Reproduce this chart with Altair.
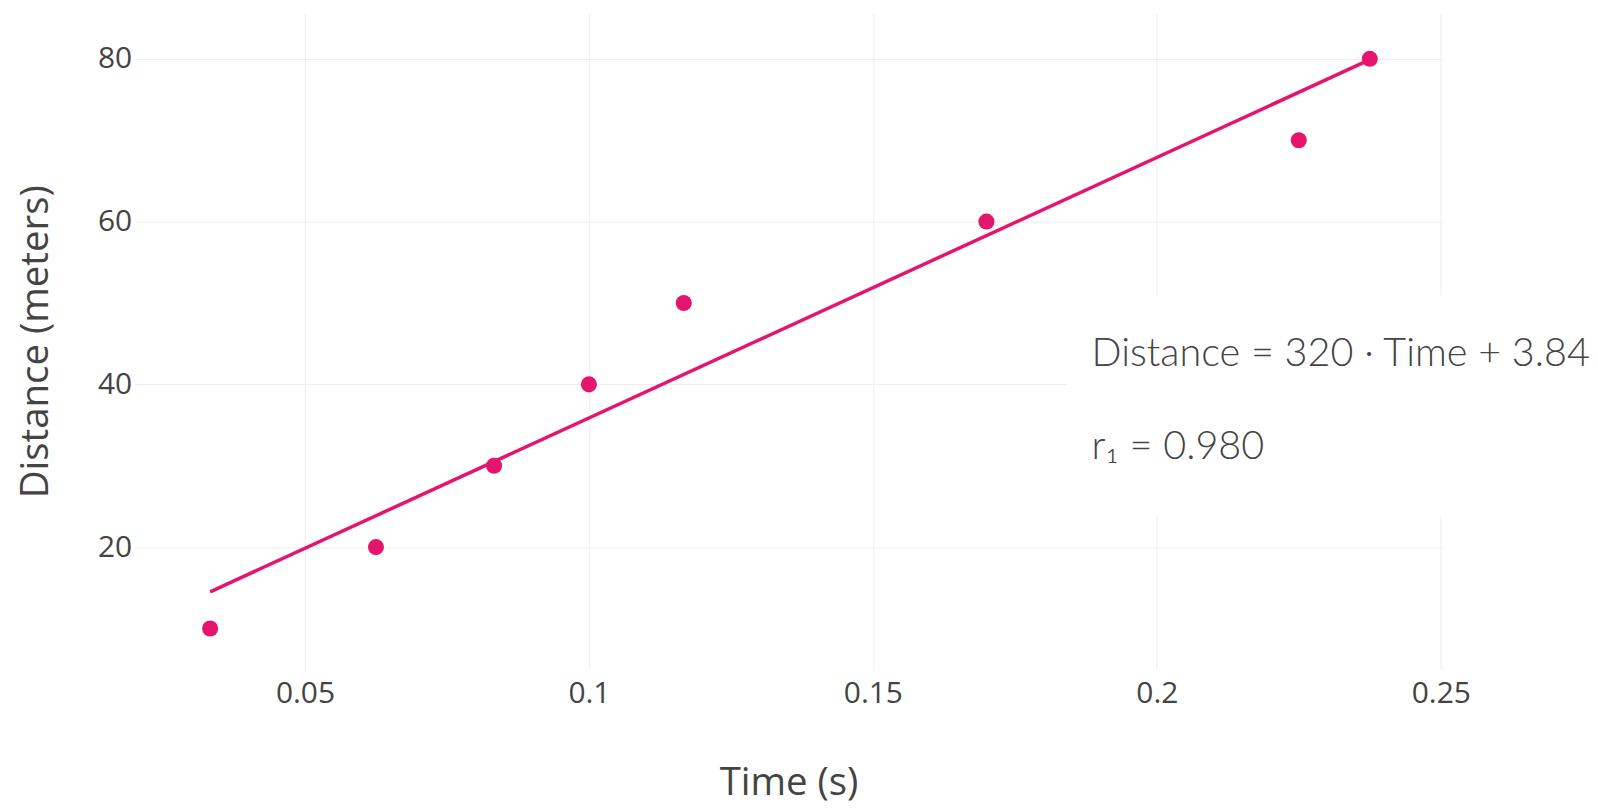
import altair as alt
import pandas as pd

# Data
time_s = [0.0333, 0.0625, 0.0833, 0.1, 0.1167, 0.17, 0.225, 0.2375]
distance_m = [10, 20, 30, 40, 50, 60, 70, 80]

eq_lines = ["Distance = 320 \u00b7 Time + 3.84"]
r_label = "r\u2081 = 0.980"

df = pd.DataFrame({"time": time_s, "distance": distance_m})

PINK = "#E6156C"
TXT = "#444444"
FONT = "Open Sans"

x_scale = alt.Scale(domain=[0.0200, 0.2503], nice=False, zero=False)
y_scale = alt.Scale(domain=[5.0, 85.6], nice=False, zero=False)

x_enc = alt.X("time:Q", scale=x_scale,
              axis=alt.Axis(title="Time (s)", values=[0.05, 0.1, 0.15, 0.2, 0.25],
                            format="~g", labelFontSize=30, titleFontSize=38.5,
                            labelPadding=9, titleY=114, titleBaseline="middle"))
y_enc = alt.Y("distance:Q", scale=y_scale,
              axis=alt.Axis(title="Distance (meters)", values=[20, 40, 60, 80],
                            labelFontSize=30, titleFontSize=38.5, labelPadding=3,
                            titleX=-99, titleBaseline="middle"))

base = alt.Chart(df)

box = alt.Chart(pd.DataFrame({"k": [0]})).mark_rect(color="white").encode(
    x=alt.value(935), x2=alt.value(1460), y=alt.value(283), y2=alt.value(503)
)

fit = base.transform_regression("time", "distance").mark_line(
    color=PINK, strokeWidth=3.5
).encode(x=x_enc, y=y_enc)

pts = base.mark_circle(color=PINK, size=260, opacity=1).encode(x=x_enc, y=y_enc)

txt1 = alt.Chart(pd.DataFrame({"t": eq_lines})).mark_text(
    align="left", baseline="alphabetic", font="Lato", fontWeight=300,
    fontSize=39.7, color=TXT
).encode(x=alt.value(960), y=alt.value(354), text="t:N")

txt2 = alt.Chart(pd.DataFrame({"t": [r_label]})).mark_text(
    align="left", baseline="alphabetic", font="Lato", fontWeight=300,
    fontSize=39.7, color=TXT
).encode(x=alt.value(960), y=alt.value(447), text="t:N")

chart = alt.layer(box, fit, pts, txt1, txt2).properties(
    width=1312, height=658,
    autosize=alt.AutoSizeParams(type="none"),
    padding={"left": 127, "top": 4, "right": 148, "bottom": 138},
    background="white",
).configure_view(stroke=None).configure_axis(
    grid=True, gridColor="#eeeeee", gridWidth=1, domain=False, ticks=False,
    labelColor=TXT, titleColor=TXT, labelFont=FONT, titleFont=FONT,
    titleFontWeight="normal"
)

chart.save("out.html", embed_options={"renderer": "svg", "actions": False})
